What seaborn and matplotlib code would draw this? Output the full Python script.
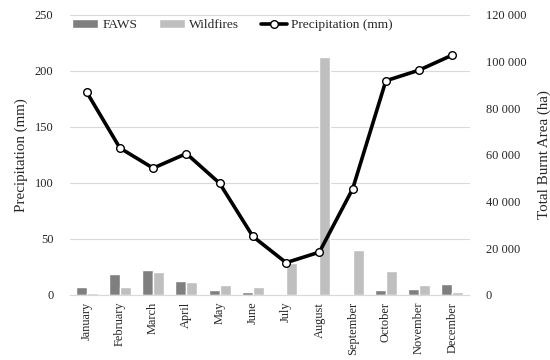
import numpy as np
import pandas as pd
import matplotlib
matplotlib.use("Agg")
import matplotlib.pyplot as plt
import seaborn as sns
from matplotlib.ticker import FuncFormatter

months = ["January", "February", "March", "April", "May", "June", "July",
          "August", "September", "October", "November", "December"]
precip_mm = [181, 131, 113, 126, 99.5, 52, 28.6, 38, 94.4, 191, 200.5, 214]
faws_ha = [3300, 8900, 10800, 6000, 1850, 1300, 0, 0, 0, 2000, 2600, 4400]
wildfires_ha = [900, 3300, 9800, 5400, 4100, 3300, 13700, 101900, 19300, 10300, 4100, 1300]
left_ticks = [0, 50, 100, 150, 200, 250]
right_ticks = [0, 20000, 40000, 60000, 80000, 100000, 120000]

sns.set_theme(style="white")
plt.rcParams["font.family"] = ["Liberation Serif", "DejaVu Serif"]
txt = "#262626"

df = pd.DataFrame({
    "Month": months * 2,
    "Series": ["FAWS"] * 12 + ["Wildfires"] * 12,
    "Area": faws_ha + wildfires_ha,
})

fig = plt.figure(figsize=(5.5, 3.6), dpi=100)
ax = fig.add_axes([70/550, 1 - 294.7/360, (469-70)/550, (294.7-14.7)/360])
ax2 = ax.twinx()

# bars on the primary axes, whose y-axis is shown on the right
sns.barplot(data=df, x="Month", y="Area", hue="Series",
            palette=["#7f7f7f", "#bfbfbf"], saturation=1, width=0.66,
            ax=ax, legend=True, zorder=2)
ax.set_ylim(0, 120000)
ax.set_xlim(-0.5, len(months) - 0.5)
ax.yaxis.tick_right()
ax.yaxis.set_label_position("right")
ax.set_yticks(right_ticks)
ax.yaxis.set_major_formatter(FuncFormatter(lambda v, p: f"{int(v):,}".replace(",", " ")))
ax.set_ylabel("Total Burnt Area (ha)", fontsize=10.8, color=txt, labelpad=8)
ax.set_xlabel("")
# gridlines matching the precipitation ticks
for t in left_ticks[1:]:
    ax.axhline(t * 120000 / 250, color="#d9d9d9", lw=0.8, zorder=0, clip_on=False)

# precipitation line on the twin axes, y-axis shown on the left
x = np.arange(len(months))
sns.lineplot(x=x, y=precip_mm, ax=ax2, color="black", lw=2.6, marker="o",
             markersize=5.5, markerfacecolor="white", markeredgecolor="black",
             markeredgewidth=1.0, label="Precipitation (mm)", legend=False, zorder=5)
ax2.set_ylim(0, 250)
ax2.yaxis.tick_left()
ax2.yaxis.set_label_position("left")
ax2.set_yticks(left_ticks)
ax2.set_ylabel("Precipitation (mm)", fontsize=10.8, color=txt, labelpad=5)

for a in (ax, ax2):
    for s in a.spines.values():
        s.set_visible(False)
    a.tick_params(axis="y", length=0, labelsize=8.9, labelcolor=txt, pad=12)
    a.tick_params(axis="x", length=0)
ax.spines["bottom"].set_visible(True)
ax.spines["bottom"].set_color("#d9d9d9")
ax.spines["bottom"].set_linewidth(0.9)
ax.set_xticks(x)
ax.set_xticklabels(months, rotation=90, fontsize=8.9, color=txt)
ax.tick_params(axis="x", pad=5)
ax2.tick_params(axis="x", labelbottom=False)

h1, l1 = ax.get_legend_handles_labels()
h2, l2 = ax2.get_legend_handles_labels()
ax.get_legend().remove()
fig.legend(h1 + h2, l1 + l2, loc="upper left", bbox_to_anchor=(0.1304, 0.947),
           ncol=3, frameon=False, fontsize=9.6, borderpad=0, borderaxespad=0,
           handlelength=2.0, handletextpad=0.3, columnspacing=1.6,
           labelcolor=txt)

fig.savefig("out.png", dpi=100)
